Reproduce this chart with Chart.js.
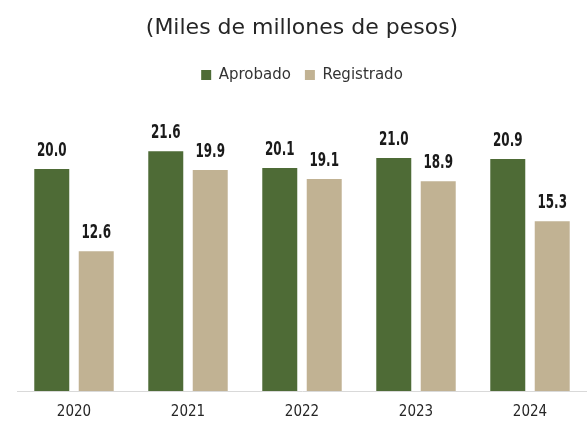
<!DOCTYPE html>
<html><head><meta charset="utf-8">
<script src="https://cdn.jsdelivr.net/npm/chart.js@4"></script>
<style>html,body{margin:0;padding:0;background:#fff}#wrap{width:587px;height:425px}</style>
</head><body><div id="wrap"><canvas id="c"></canvas></div>
<script>
const categories = ["2020","2021","2022","2023","2024"];
const aprobado = [20.0, 21.6, 20.1, 21.0, 20.9];
const registrado = [12.6, 19.9, 19.1, 18.9, 15.3];
const seriesNames = ["Aprobado","Registrado"];
const titleText = "(Miles de millones de pesos)";

const labelPlugin = {
  id: 'barLabels',
  afterDatasetsDraw(chart) {
    const ctx = chart.ctx;
    chart.data.datasets.forEach((ds, i) => {
      const meta = chart.getDatasetMeta(i);
      meta.data.forEach((bar, j) => {
        ctx.save();
        ctx.font = 'bold 19px "DejaVu Sans Condensed", "DejaVu Sans", sans-serif';
        ctx.fillStyle = '#1a1a1a';
        ctx.textAlign = 'center';
        ctx.textBaseline = 'alphabetic';
        ctx.translate(bar.x, bar.y - 13);
        ctx.scale(0.7, 1);
        ctx.fillText(ds.data[j].toFixed(1), 0, 0);
        ctx.restore();
      });
    });
  }
};

new Chart(document.getElementById('c'), {
  type: 'bar',
  data: {
    labels: categories,
    datasets: [
      { label: seriesNames[0], data: aprobado, backgroundColor: '#4E6B36' },
      { label: seriesNames[1], data: registrado, backgroundColor: '#C1B293' }
    ]
  },
  options: {
    responsive: true,
    maintainAspectRatio: false,
    animation: false,
    datasets: { bar: { categoryPercentage: 0.78, barPercentage: 0.787 } },
    layout: { padding: { left: 17, right: 0, top: 15, bottom: -8 } },
    plugins: {
      title: {
        display: true, text: titleText, color: '#262626',
        font: { size: 22, family: '"DejaVu Sans", sans-serif', weight: 'normal' },
        padding: { top: 0, bottom: 12 }
      },
      legend: {
        display: true,
        labels: { color: '#333', boxWidth: 10, boxHeight: 10, padding: 14,
          font: { size: 15, family: '"DejaVu Sans", sans-serif' } }
      },
      tooltip: { enabled: false }
    },
    scales: {
      x: {
        grid: { display: false, drawTicks: false },
        border: { display: true, color: '#D9D9D9', width: 1 },
        ticks: { color: '#262626', padding: 12,
          font: { size: 15, family: '"Liberation Sans Narrow", "DejaVu Sans Condensed", sans-serif' } }
      },
      y: { display: false, min: 0, max: 26.9 }
    }
  },
  plugins: [labelPlugin]
});
</script></body></html>
